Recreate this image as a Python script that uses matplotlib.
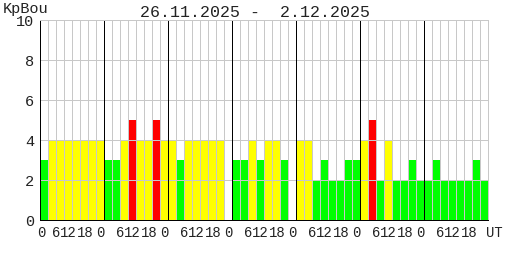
import matplotlib
matplotlib.use("Agg")
import matplotlib.pyplot as plt
import matplotlib.transforms as mtransforms

title = "26.11.2025 -  2.12.2025"
ylabel = "KpBou"
days = ["26.11", "27.11", "28.11", "29.11", "30.11", "1.12", "2.12"]
hour_labels = ["0", "6", "12", "18"]
kp = [3, 4, 4, 4, 4, 4, 4, 4,
      3, 3, 4, 5, 4, 4, 5, 4,
      4, 3, 4, 4, 4, 4, 4, 0,
      3, 3, 4, 3, 4, 4, 3, 0,
      4, 4, 2, 3, 2, 2, 3, 3,
      4, 5, 2, 4, 2, 2, 3, 2,
      2, 3, 2, 2, 2, 2, 3, 2]
yticks = [0, 2, 4, 6, 8, 10]

W, H = 508, 260
fig = plt.figure(figsize=(W / 100, H / 100), dpi=100)
L, R, T, B = 40, 488, 20, 220
ax = fig.add_axes([L / W, 1 - B / H, (R - L) / W, (B - T) / H])

n = len(kp)
per_day = n // len(days)

def colour(v):
    if v >= 5:
        return "#ff0000"
    if v >= 4:
        return "#ffff00"
    return "#00ff00"

ax.bar([i + 0.5 for i in range(n)], kp, width=1.0,
       color=[colour(v) for v in kp], linewidth=0, zorder=1)

grid = "#c8c8c8"
lw = 72 / 100  # one pixel
for i in range(1, n):
    c = "black" if i % per_day == 0 else grid
    ax.axvline(i, color=c, lw=lw, zorder=3 if c == "black" else 2,
               antialiased=False)
for y in yticks[1:-1]:
    ax.axhline(y, color=grid, lw=lw, zorder=2, antialiased=False)

ax.set_xlim(0, n)
ax.set_ylim(0, 10)
for s in ["top", "right"]:
    ax.spines[s].set_color(grid)
    ax.spines[s].set_linewidth(lw)
for s in ["left", "bottom"]:
    ax.spines[s].set_color("black")
    ax.spines[s].set_linewidth(lw)
for s in ax.spines.values():
    s.set_zorder(4)
    s.set_antialiased(False)

mono = "Liberation Mono"
tc = "#222222"
ax.set_yticks(yticks)
ax.set_yticklabels([str(v) for v in yticks], family=mono, fontsize=11, color=tc)
ax.tick_params(axis="y", length=0, pad=4)
ax.set_xticks([])

trans = mtransforms.blended_transform_factory(ax.transData, ax.transAxes)
offs = [0.15, 2.05, 3.6, 5.7]
for d in range(len(days)):
    for k, lab in enumerate(hour_labels):
        off = offs[k]
        if k == 0 and d > 0:
            off = -0.45
        ax.text(d * per_day + off, -0.03, lab, transform=trans,
                ha="center", va="top", family=mono, fontsize=10, color=tc)
ax.text(n - 0.2, -0.03, "UT", transform=trans, ha="left", va="top",
        family=mono, fontsize=10, color=tc)

fig.text(255 / W, 1 - 12 / H, title, ha="center", va="center",
         family=mono, fontsize=12, color=tc)
fig.text(3 / W, 1 - 9 / H, ylabel, ha="left", va="center",
         family=mono, fontsize=11, color=tc)

fig.savefig("out.png", dpi=100, facecolor="white")
